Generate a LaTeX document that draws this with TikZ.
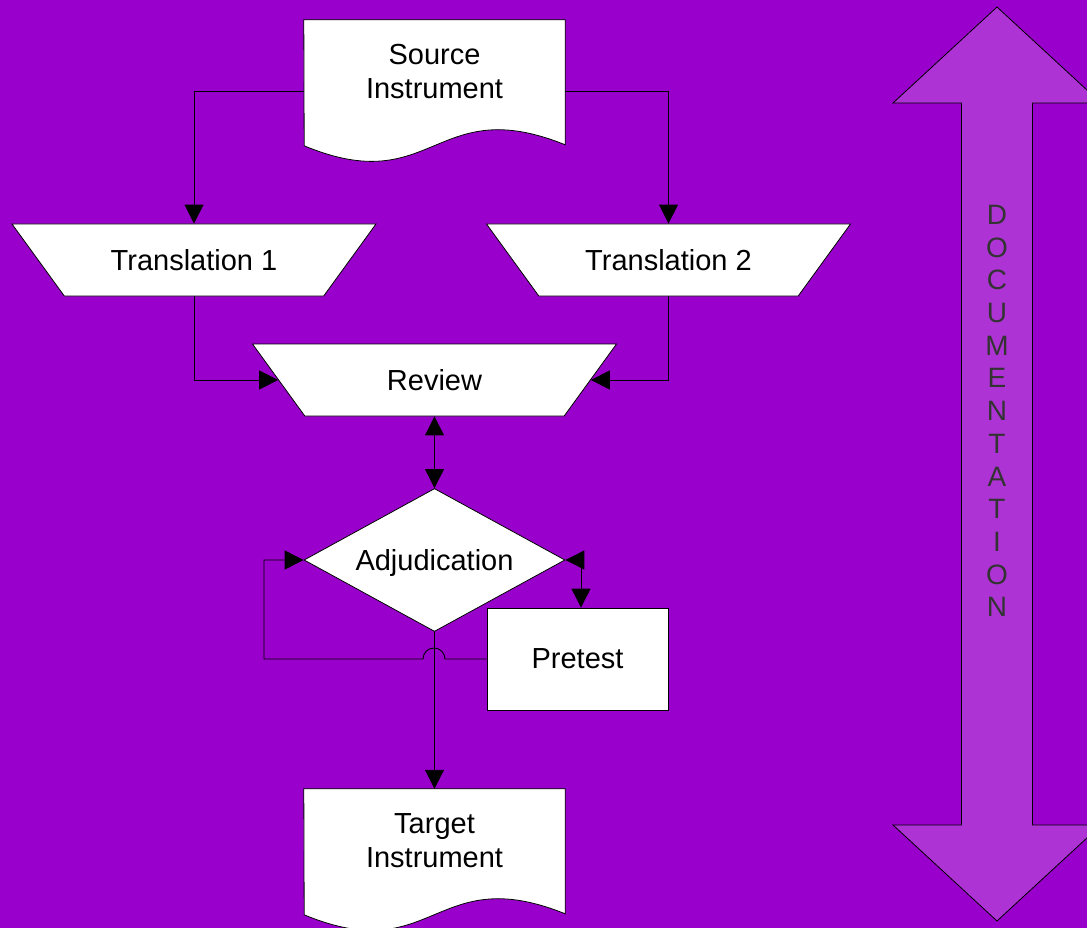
\documentclass[tikz,border=0pt]{standalone}
\usepackage{fontspec}
\setmainfont{Liberation Sans}
\usetikzlibrary{shapes.geometric,arrows.meta}
\definecolor{bgpurple}{RGB}{153,0,204}
\definecolor{docpurple}{RGB}{174,51,212}
\definecolor{doctext}{RGB}{51,51,51}
\pgfdeclarelayer{bg}
\pgfdeclarelayer{docs}
\pgfsetlayers{bg,docs,main}

\begin{document}
\begin{tikzpicture}[
  x=1pt, y=-1pt,
  every node/.style={font=\fontsize{29}{34}\selectfont},
  doc/.style={minimum width=261pt, minimum height=104pt, inner sep=0pt, align=center},
  docshape/.style={draw, fill=white, line width=0.8pt},
  trap/.style={trapezium, trapezium stretches body=true, shape border rotate=180, trapezium angle=54,
    text height=20pt, text depth=0pt, inner xsep=0pt, inner ysep=26pt,
    minimum width=364pt, draw, fill=white, line width=0.8pt},
  decision/.style={diamond, aspect=1.8, minimum width=261pt, minimum height=143pt, inner sep=0pt,
    text depth=0pt, draw, fill=white, line width=0.8pt},
  box/.style={draw, fill=white, minimum width=181pt, minimum height=102pt, line width=0.8pt},
  arrow/.style={-{Triangle[length=19pt,width=19pt]}, line width=0.9pt},
  dblarrow/.style={{Triangle[length=19pt,width=19pt]}-{Triangle[length=19pt,width=19pt]}, line width=0.9pt}
]
  % Background
  \begin{pgfonlayer}{bg}
    \fill[bgpurple] (0,0) rectangle (1087,928);
  \end{pgfonlayer}
  \useasboundingbox (0,0) rectangle (1087,928);

  % Source
  \node[doc] (source) at (434.5,72) {Source\\Instrument};

  % Translations
  \node[trap] (trans1) at (194,260) {Translation 1};
  \node[trap] (trans2) at (668.5,260) {Translation 2};

  % Review
  \node[trap] (review) at (434.5,380) {Review};

  % Adjudication
  \node[decision] (adjud) at (434.5,560) {Adjudication};

  % Pretest
  \node[box] (pretest) at (577.5,659) {Pretest};

  % Target
  \node[doc] (target) at (434.5,841) {Target\\Instrument};

  % Document outlines
  \begin{pgfonlayer}{docs}
    \draw[docshape] (source.north west) -- (source.north east) -- ++(0,125)
      .. controls +(-131,-53) and +(130,54) .. ++(-261,1) -- cycle;
    \draw[docshape] (target.north west) -- (target.north east) -- ++(0,125)
      .. controls +(-131,-53) and +(130,54) .. ++(-261,1) -- cycle;
  \end{pgfonlayer}

  % Documentation
  \draw[fill=docpurple, line width=0.8pt] (997,7) -- (1101,103) -- (1032.5,103) -- (1032.5,825)
    -- (1101,825) -- (997,921) -- (893,825) -- (961.5,825) -- (961.5,103) -- (893,103) -- cycle;
  \node[text=doctext, align=center, font=\fontsize{28}{32.7}\selectfont] (docu) at (997,411)
    {D\\O\\C\\U\\M\\E\\N\\T\\A\\T\\I\\O\\N};

  % Arrows
  \draw[arrow] (source.west |- 0,91) -| (trans1.north);
  \draw[arrow] (source.east |- 0,91) -| (trans2.north);
  \draw[arrow] (trans1.south) |- (review.west);
  \draw[arrow] (trans2.south) |- (review.east);
  \draw[dblarrow] (review.south) -- (adjud.north);
  \draw[dblarrow] (adjud.east) -| ([xshift=3.5pt]pretest.north);
  \draw[arrow] (pretest.west) -- (445,659) arc[start angle=0, end angle=180, radius=11pt]
    -- (264,659) |- (adjud.west);
  \draw[arrow] (adjud.south) -- (target.north);

\end{tikzpicture}
\end{document}
